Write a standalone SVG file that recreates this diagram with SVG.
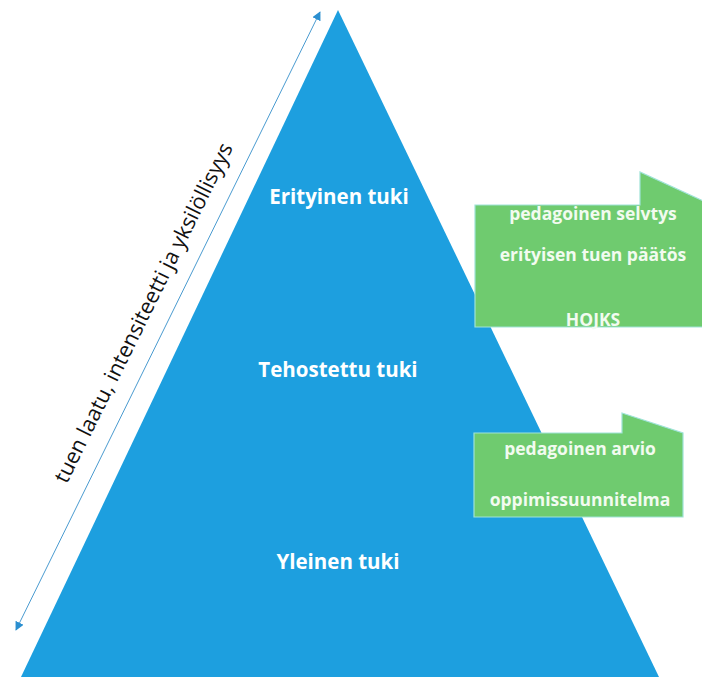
<svg xmlns="http://www.w3.org/2000/svg" width="702" height="677" viewBox="0 0 702 677">
<defs>
<style>
.lvl{font-family:"Open Sans","Liberation Sans",sans-serif;font-weight:bold;font-size:20.5px;fill:#ffffff;text-anchor:middle}
.box{fill:#6fcb6f;stroke:#9fe3d8;stroke-width:1.2}
.bt{font-family:"Open Sans","Liberation Sans",sans-serif;font-weight:bold;font-size:17.5px;fill:#f2fbf0;text-anchor:middle}
.ax{font-family:"Open Sans","Liberation Sans",sans-serif;font-size:21.5px;fill:#111111;text-anchor:middle}
</style>
<marker id="ah" viewBox="0 0 10 10" refX="9" refY="5" markerWidth="9" markerHeight="9" orient="auto-start-reverse" markerUnits="userSpaceOnUse">
<path d="M0,0 L10,5 L0,10 z" fill="#2b8fd0"/>
</marker>
</defs>
<rect width="702" height="677" fill="#ffffff"/>
<g id="pyramid">
<polygon points="338,10 659,677 21,677" fill="#1d9fdf"/>
<text class="lvl" x="339" y="204">Erityinen tuki</text>
<text class="lvl" x="338" y="377">Tehostettu tuki</text>
<text class="lvl" x="338" y="569">Yleinen tuki</text>
</g>
<g id="box-erityinen">
<polygon class="box" points="475,205 640,205 640,172 712,205 712,327 475,327"/>
<text class="bt" x="593" y="220">pedagoinen selvtys</text>
<text class="bt" x="593" y="261">erityisen tuen päätös</text>
<text class="bt" x="593" y="326">HOJKS</text>
</g>
<g id="box-tehostettu">
<polygon class="box" points="474,433 622,433 622,413 683,433 683,517 474,517"/>
<text class="bt" x="580" y="455">pedagoinen arvio</text>
<text class="bt" x="580" y="506">oppimissuunnitelma</text>
</g>
<g id="connectors">
<line x1="320" y1="12" x2="16" y2="630" stroke="#4a9bd0" stroke-width="1" marker-start="url(#ah)" marker-end="url(#ah)"/>
</g>
<g id="axis-label">
<text class="ax" transform="translate(150,316) rotate(-63.7)">tuen laatu, intensiteetti ja yksilöllisyys</text>
</g>
</svg>
